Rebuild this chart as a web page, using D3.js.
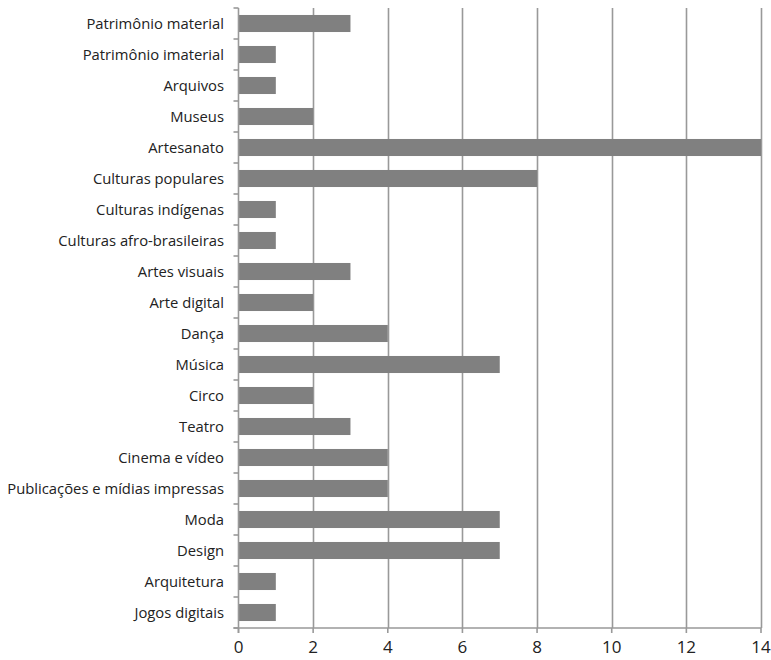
<!DOCTYPE html>
<html><head><meta charset="utf-8">
<script src="https://cdn.jsdelivr.net/npm/d3@7"></script>
<style>
html,body{margin:0;padding:0;background:#fff;}
text{font-family:"Open Sans",sans-serif;fill:#222;}
</style></head>
<body>
<svg id="chart" width="771" height="660"></svg>
<script>
const categories = ["Patrimônio material","Patrimônio imaterial","Arquivos","Museus","Artesanato","Culturas populares","Culturas indígenas","Culturas afro-brasileiras","Artes visuais","Arte digital","Dança","Música","Circo","Teatro","Cinema e vídeo","Publicações e mídias impressas","Moda","Design","Arquitetura","Jogos digitais"];
const values = [3,1,1,2,14,8,1,1,3,2,4,7,2,3,4,4,7,7,1,1];
const xTicks = [0,2,4,6,8,10,12,14];

(function(){
const svg = d3.select("#chart");
const pl = 238.5, pr = 761, pt = 8, pb = 628;
const x = d3.scaleLinear().domain([0,14]).range([pl,pr]);
const y = d3.scaleBand().domain(categories).range([pt,pb]).paddingInner(0.45).paddingOuter(0.225);
const yb = d3.scaleBand().domain(categories).range([pt,pb]);

// gridlines
svg.append("g").selectAll("line").data(xTicks.filter(d=>d>0)).join("line")
  .attr("x1",d=>Math.round(x(d))+0.5).attr("x2",d=>Math.round(x(d))+0.5)
  .attr("y1",pt).attr("y2",pb)
  .attr("stroke","#999").attr("stroke-width",1.6);

// bars
svg.append("g").selectAll("rect").data(categories).join("rect")
  .attr("x",x(0)).attr("y",d=>y(d))
  .attr("width",(d,i)=>x(values[i])-x(0))
  .attr("height",y.bandwidth())
  .attr("fill","#808080");

// left axis line & ticks at band boundaries
const gl = svg.append("g");
gl.append("line").attr("x1",pl).attr("x2",pl).attr("y1",pt).attr("y2",pb+5).attr("stroke","#999").attr("stroke-width",1.6);
const bounds = categories.map(c=>yb(c)).concat([pb]);
gl.selectAll("line.t").data(bounds).join("line").attr("class","t")
  .attr("x1",pl-5).attr("x2",pl).attr("y1",d=>d).attr("y2",d=>d)
  .attr("stroke","#999").attr("stroke-width",1.6);
gl.selectAll("text").data(categories).join("text")
  .attr("x",224).attr("y",d=>yb(d)+yb.bandwidth()/2)
  .attr("dy","0.35em").attr("text-anchor","end")
  .attr("font-size",14.8).text(d=>d);

// bottom axis
const gb = svg.append("g");
gb.append("line").attr("x1",pl-5).attr("x2",pr).attr("y1",pb).attr("y2",pb).attr("stroke","#999").attr("stroke-width",1.6);
gb.selectAll("line.t").data(xTicks).join("line").attr("class","t")
  .attr("x1",d=>x(d)).attr("x2",d=>x(d)).attr("y1",pb).attr("y2",pb+5)
  .attr("stroke","#999").attr("stroke-width",1.6);
gb.selectAll("text").data(xTicks).join("text")
  .attr("x",d=>x(d)).attr("y",647).attr("dy","0.35em")
  .attr("text-anchor","middle").attr("font-size",17).text(d=>d);
})();
</script>
</body></html>
